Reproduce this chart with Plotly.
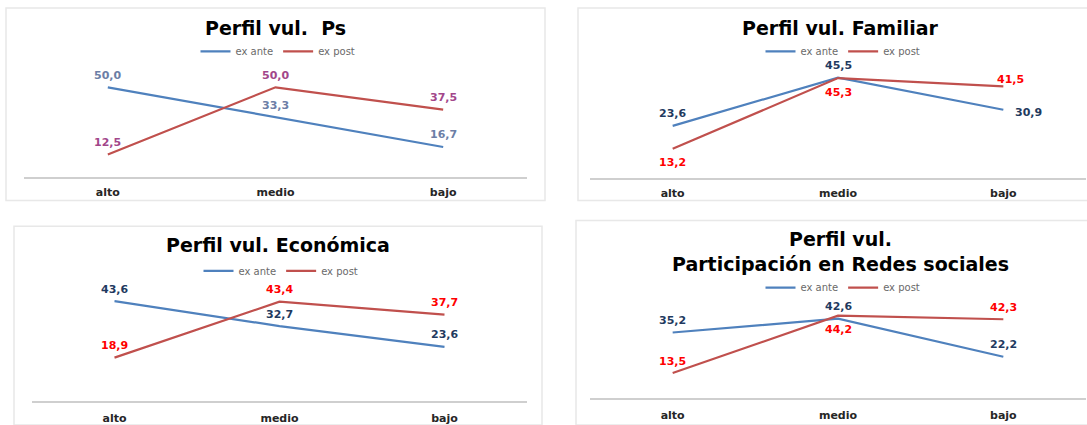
import plotly.graph_objects as go

# ---------------- data ----------------
categories = ["alto", "medio", "bajo"]
series_names = ["ex ante", "ex post"]

titles = [
    "Perfil vul.  Ps",
    "Perfil vul. Familiar",
    "Perfil vul. Económica",
    "Perfil vul.<br>Participación en Redes sociales",
]

ps_ex_ante = [50.0, 33.3, 16.7]
ps_ex_post = [12.5, 50.0, 37.5]

familiar_ex_ante = [23.6, 45.5, 30.9]
familiar_ex_post = [13.2, 45.3, 41.5]

economica_ex_ante = [43.6, 32.7, 23.6]
economica_ex_post = [18.9, 43.4, 37.7]

redes_ex_ante = [35.2, 42.6, 22.2]
redes_ex_post = [13.5, 44.2, 42.3]

data = [
    (ps_ex_ante, ps_ex_post),
    (familiar_ex_ante, familiar_ex_post),
    (economica_ex_ante, economica_ex_post),
    (redes_ex_ante, redes_ex_post),
]

# ---------------- layout / style ----------------
W, H = 1087, 425


def fx(x):
    return x / W


def fy(y):
    return 1 - y / H


FONT = "DejaVu Sans"
BLUE = "#4f81bd"
RED = "#c0504d"

UP = (0, 12)
DOWN = (0, -14)

panels = [
    dict(xd=(24, 527), yd=(70.2, 179), yr=60, tx=275, ty=28, lx=278, ly=52,
         border=(6, 8, 545, 203), standoff=4,
         lblcol=("#6c7ea6", "#a2468a"),
         off=([UP, UP, UP], [UP, UP, UP])),
    dict(xd=(590, 1086), yd=(68.5, 180), yr=50, tx=840, ty=28, lx=843, ly=52,
         border=(578, 8, 1092, 203), standoff=4,
         lblcol=("#1f3a60", "#ff0000"),
         off=([UP, UP, (25, -3)], [DOWN, DOWN, (7, 7)])),
    dict(xd=(32, 527), yd=(290, 405.5), yr=50, tx=278, ty=248, lx=281, ly=274,
         border=(14, 229, 542, 430), standoff=6,
         lblcol=("#1f3a60", "#ff0000"),
         off=([UP, UP, UP], [UP, UP, UP])),
    dict(xd=(590, 1086), yd=(289.6, 403), yr=60, tx=840, ty=254, lx=843, ly=291,
         border=(576, 223, 1092, 430), standoff=6,
         lblcol=("#1f3a60", "#ff0000"),
         off=([UP, UP, UP], [UP, DOWN, UP])),
]


def fmt(v):
    return f"{v:.1f}".replace(".", ",")


fig = go.Figure()
layout = dict(
    width=W, height=H,
    margin=dict(l=0, r=0, t=0, b=0),
    paper_bgcolor="white", plot_bgcolor="rgba(0,0,0,0)",
    font=dict(family=FONT, color="#404040"),
    shapes=[], annotations=[],
)

for i, (p, (ante, post)) in enumerate(zip(panels, data)):
    n = i + 1
    xa = "x" if n == 1 else f"x{n}"
    ya = "y" if n == 1 else f"y{n}"
    lg = "legend" if n == 1 else f"legend{n}"
    for vals, name, col, lcol, offs in [
        (ante, series_names[0], BLUE, p["lblcol"][0], p["off"][0]),
        (post, series_names[1], RED, p["lblcol"][1], p["off"][1]),
    ]:
        fig.add_trace(go.Scatter(
            x=categories, y=vals, name=name, mode="lines",
            line=dict(color=col, width=2.2),
            cliponaxis=False, xaxis=xa, yaxis=ya, legend=lg,
            hoverinfo="skip",
        ))
        for c, v, (dx, dy) in zip(categories, vals, offs):
            layout["annotations"].append(dict(
                x=c, y=v, xref=xa, yref=ya, text=fmt(v), showarrow=False,
                xanchor="center", yanchor="middle", xshift=dx, yshift=dy,
                font=dict(family=FONT, size=11, color=lcol, weight="bold"),
            ))
    xkey = "xaxis" if n == 1 else f"xaxis{n}"
    ykey = "yaxis" if n == 1 else f"yaxis{n}"
    layout[xkey] = dict(
        domain=[fx(p["xd"][0]), fx(p["xd"][1])], anchor=ya,
        type="category", range=[-0.5, 2.5],
        showline=True, linecolor="#cfcfcf", linewidth=1.5,
        showgrid=False, zeroline=False, ticks="",
        ticklabelstandoff=p["standoff"],
        tickfont=dict(family=FONT, size=11, color="#262626", weight="bold"),
        fixedrange=True,
    )
    layout[ykey] = dict(
        domain=[fy(p["yd"][1]), fy(p["yd"][0])], anchor=xa,
        range=[0, p["yr"]], visible=False, fixedrange=True,
    )
    layout[lg] = dict(
        orientation="h", x=fx(p["lx"]), y=fy(p["ly"]),
        xanchor="center", yanchor="middle",
        bgcolor="rgba(0,0,0,0)",
        font=dict(family=FONT, size=10, color="#6a6a6a"),
        itemwidth=30, tracegroupgap=0,
    )
    x0, y0, x1, y1 = p["border"]
    layout["shapes"].append(dict(
        type="rect", xref="paper", yref="paper",
        x0=fx(x0), x1=fx(x1), y0=fy(y1), y1=fy(y0),
        line=dict(color="#e8e8e8", width=1.5), fillcolor="rgba(0,0,0,0)",
        layer="below",
    ))
    layout["annotations"].append(dict(
        text=titles[i], xref="paper", yref="paper",
        x=fx(p["tx"]), y=fy(p["ty"]), xanchor="center", yanchor="middle",
        showarrow=False,
        font=dict(family=FONT, size=19, color="#000000", weight="bold"),
    ))

fig.update_layout(**layout)
fig.write_html(
    "out.html",
    config={"displayModeBar": False},
    post_script="document.body.style.margin='0';document.body.style.overflow='hidden';",
)
